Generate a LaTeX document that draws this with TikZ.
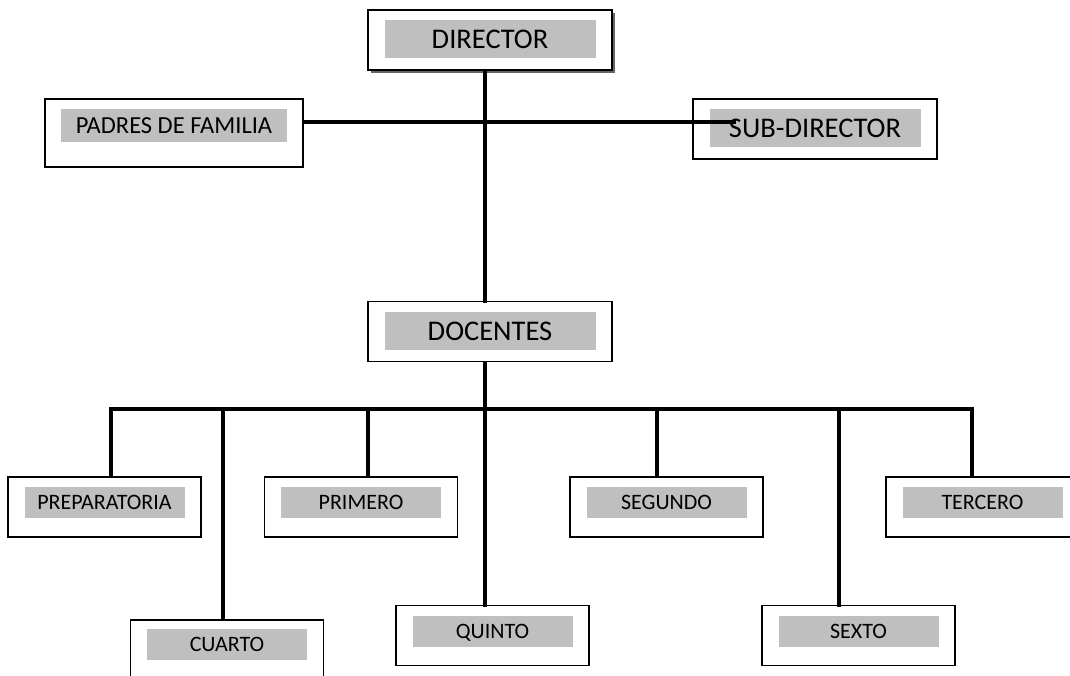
\documentclass[tikz,border=0pt]{standalone}
\usepackage{fontspec}
\setsansfont{Carlito}
\usepackage{tikz}
\usetikzlibrary{positioning,shadows}
\tikzset{%
  % Specifications for style of nodes:
          box/.style = {rectangle, draw=black, line width=1.5pt, inner sep=0pt,
                        minimum width=193pt, minimum height=60pt},
       bigbox/.style = {box, minimum width=244pt},
        shade/.style = {rectangle, fill=black!25, inner sep=0pt,
                        minimum width=160pt, minimum height=31pt,
                        text height=14pt, text depth=0pt,
                        text centered, font=\sffamily\fontsize{22}{26}\selectfont},
     bigshade/.style = {shade, minimum width=211pt, minimum height=38pt,
                        text height=18.5pt,
                        font=\sffamily\fontsize{28.5}{34}\selectfont},
         link/.style = {line width=3.5pt, line cap=rect},
}
\begin{document}
\begin{tikzpicture}[x=1pt, y=-1pt, node distance=11pt]
  \useasboundingbox (0,0) rectangle (1070,675);
  \clip (0,0) rectangle (1070,675);
  % Specification of nodes (position, etc.)
    \node (director)    [bigbox, fill=white, drop shadow={shadow xshift=3pt,
                         shadow yshift=-3pt, fill=black!60, opacity=1}] at (490,40) {};
    \node (directorLbl) [bigshade, below=of director.north]  {DIRECTOR};
    \node (padres)      [box, minimum width=258pt, minimum height=68pt] at (174,133) {};
    \node (padresLbl)   [shade, minimum width=226pt, minimum height=33pt,
                         text height=15.8pt,
                         font=\sffamily\fontsize{24.5}{29}\selectfont,
                         below=of padres.north]                {PADRES DE FAMILIA};
    \node (subDirector) [bigbox] at (815,129) {};
    \node (subDirectorLbl) [bigshade, below=of subDirector.north] {SUB-DIRECTOR};
    \node (docentes)    [bigbox] at (490,331.5) {};
    \node (docentesLbl) [bigshade, below=of docentes.north]  {DOCENTES};
    \node (prep)        [box] at (104.5,507) {};
    \node (prepLbl)     [shade, below=of prep.north]         {PREPARATORIA};
    \node (primero)     [box] at (361,507) {};
    \node (primeroLbl)  [shade, below=of primero.north]      {PRIMERO};
    \node (segundo)     [box] at (666.5,507) {};
    \node (segundoLbl)  [shade, below=of segundo.north]      {SEGUNDO};
    \node (tercero)     [box] at (982.5,507) {};
    \node (terceroLbl)  [shade, below=of tercero.north]      {TERCERO};
    \node (cuarto)      [box] at (227,650) {};
    \node (cuartoLbl)   [shade, below=10pt of cuarto.north]  {CUARTO};
    \node (quinto)      [box] at (492.5,635.5) {};
    \node (quintoLbl)   [shade, below=of quinto.north]       {QUINTO};
    \node (sexto)       [box] at (858.5,635.5) {};
    \node (sextoLbl)    [shade, below=of sexto.north]        {SEXTO};
    \coordinate (spine) at (485,0);
    \coordinate (busL)  at (111,409);
    \coordinate (busR)  at (972,409);
  % Specification of lines between nodes specified above
    \draw[link]     (spine |- director.south) -- (spine |- docentes.north);
    \draw[link]     ([yshift=11pt]padres.east) -- ([xshift=42pt,yshift=7pt]subDirector.west);
    \draw[link]     (spine |- docentes.south) -- (spine |- busL);
    \draw[link]     (busL) -- (busR);
    \draw[link]     (busL) -- (busL |- prep.north);
    \draw[link]     (223,409) -- (223,409 |- cuarto.north);
    \draw[link]     (368,409) -- (368,409 |- primero.north);
    \draw[link]     (spine |- busL) -- (spine |- quinto.north);
    \draw[link]     (657,409) -- (657,409 |- segundo.north);
    \draw[link]     (839,409) -- (839,409 |- sexto.north);
    \draw[link]     (busR) -- (busR |- tercero.north);
\end{tikzpicture}
\end{document}
